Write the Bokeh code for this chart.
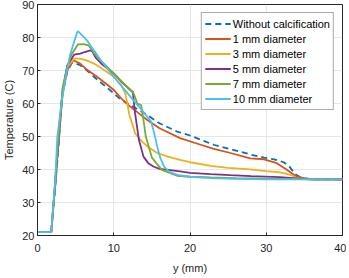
from bokeh.plotting import figure
from bokeh.models import Range1d, FixedTicker, Legend
from bokeh.embed import file_html
from bokeh.resources import INLINE

# ---- data ----
x_none = [0, 1.8, 2.3, 2.8, 3.2, 3.9, 4.5, 5.0, 5.6, 6.5, 7.4, 8.5, 10, 11, 12.2, 13.3, 14.4, 16, 18.3, 20,
          23.1, 25.3, 28, 29.7, 31, 32.3, 33.0, 33.8, 34.5, 36, 40]
t_none = [21, 21, 34, 48, 62, 69.6, 72.3, 72.1, 71.6, 70, 68.1, 66, 63.1, 61, 59.5, 58, 56.5, 54, 51.5, 50.3,
          47.5, 46.2, 44.5, 43.6, 43.1, 42.2, 41.0, 38.6, 37.6, 37, 37]

x_1mm = [0, 1.8, 2.3, 2.8, 3.3, 3.9, 4.7, 5.6, 6.5, 7.8, 9, 10, 11, 12.2, 13.3, 14.4, 16, 18.7, 21.4, 23,
         25.3, 27.9, 29.7, 31.4, 32.7, 33.8, 35, 36, 40]
t_1mm = [21, 21, 35, 50, 63, 70, 73.1, 72.1, 70.2, 68.1, 66, 64.1, 61.5, 59, 57, 55, 52.5, 49.5, 47.5, 46.3,
         45, 43.4, 43.1, 41.9, 39.9, 38.1, 37.3, 37, 37]

x_3mm = [0, 1.8, 2.3, 2.8, 3.3, 3.9, 4.8, 5.6, 6.5, 7.4, 8.5, 10, 11, 11.5, 11.8, 12.0, 12.4, 12.8, 13.5,
         14.4, 15.7, 17, 18.7, 20, 22.7, 25, 27.5, 30, 31.8, 33.2, 34.0, 35, 36, 40]
t_3mm = [21, 21, 35, 50, 64, 71, 73.6, 73.6, 73, 72.1, 70.5, 68.1, 65.5, 63.1, 60, 57, 54, 51, 49,
         47, 45, 44, 42.9, 42.2, 41.1, 40.5, 40.1, 39.5, 39.1, 38.4, 37.4, 37.1, 37, 37]

x_5mm = [0, 1.8, 2.3, 2.8, 3.3, 3.9, 4.8, 5.6, 6.2, 6.9, 7.2, 7.6, 8.5, 10, 11, 12.2, 12.5, 12.8, 13.3,
         13.9, 14.5, 15.2, 16, 17.4, 18.7, 20, 22.7, 25.3, 28, 31.8, 33.5, 35, 36, 40]
t_5mm = [21, 21, 35, 50, 64, 71.5, 74.8, 75.1, 75.6, 76.1, 75.8, 74.0, 71.8, 69.1, 66.6, 64.1, 63.5, 57, 49,
         43.9, 42, 40.9, 40.2, 39.8, 39.4, 39.0, 38.6, 38.3, 38.0, 37.7, 37.4, 37.1, 37, 37]

x_7mm = [0, 1.8, 2.3, 2.8, 3.3, 3.9, 4.5, 5.3, 6.0, 6.7, 7.8, 10, 12.6, 13.1, 13.6, 13.9, 14.2, 15.0, 16.3,
         18.3, 20, 22.7, 26, 30, 34, 40]
t_7mm = [21, 21, 36, 51, 65, 71, 75, 77.9, 78.0, 77.6, 74.1, 69.1, 63.1, 60.0, 59.5, 55, 50, 43.6, 39.9,
         38.1, 37.8, 37.6, 37.4, 37.2, 37.1, 37]

x_10mm = [0, 1.8, 2.3, 2.6, 3.2, 3.7, 4.3, 5.2, 5.3, 6.5, 8.3, 10, 12.2, 13.7, 14.9, 15.2, 15.7, 16.1, 16.6,
          17.3, 18.3, 20, 22.7, 26, 30, 40]
t_10mm = [21, 21, 36, 49.8, 61, 68, 75, 81.6, 81.9, 79.1, 73.1, 68.1, 62.0, 58.0, 54.5, 52, 47, 43.5, 40.9,
          39.3, 38.4, 37.8, 37.4, 37.2, 37, 37]

labels = ["Without calcification", "1 mm diameter", "3 mm diameter",
          "5 mm diameter", "7 mm diameter", "10 mm diameter"]
x_ticks = [0, 10, 20, 30, 40]
y_ticks = [20, 30, 40, 50, 60, 70, 80, 90]

colors = ["#0072BD", "#D95319", "#EDB120", "#7E2F8E", "#77AC30", "#4DBEEE"]
FONT = "Liberation Sans"
TXT = "#262626"

p = figure(width=346, height=276, output_backend="svg", toolbar_location=None,
           x_range=Range1d(0, 40), y_range=Range1d(20, 90),
           min_border_left=29, min_border_right=4, min_border_top=4, min_border_bottom=40)
p.outline_line_color = TXT
p.outline_line_width = 1
p.background_fill_color = "white"
p.border_fill_color = "white"

for ax, ticks in ((p.xaxis, x_ticks), (p.yaxis, y_ticks)):
    ax.ticker = FixedTicker(ticks=ticks)
    ax.major_label_text_font = FONT
    ax.major_label_text_font_size = "11px"
    ax.major_label_text_color = TXT
    ax.axis_label_text_font = FONT
    ax.axis_label_text_font_size = "11px"
    ax.axis_label_text_font_style = "normal"
    ax.axis_label_text_color = TXT
    ax.axis_line_color = TXT
    ax.major_tick_line_color = TXT
    ax.major_tick_in = 3
    ax.major_tick_out = 0
    ax.minor_tick_line_color = None
p.xaxis.axis_label = "y (mm)"
p.yaxis.axis_label = "Temperature (C)"
p.xaxis.axis_label_standoff = 7
p.yaxis.axis_label_standoff = 4
p.xaxis.major_label_standoff = 8
p.yaxis.major_label_standoff = 3

p.xgrid.ticker = FixedTicker(ticks=x_ticks)
p.ygrid.ticker = FixedTicker(ticks=y_ticks)
p.grid.grid_line_color = "#e6e6e6"
p.grid.grid_line_width = 1

xs = [x_none, x_1mm, x_3mm, x_5mm, x_7mm, x_10mm]
ts = [t_none, t_1mm, t_3mm, t_5mm, t_7mm, t_10mm]
items = []
for i, (xx, tt) in enumerate(zip(xs, ts)):
    kw = dict(line_color=colors[i], line_width=1.8)
    if i == 0:
        kw["line_dash"] = "6 4"
    r = p.line(xx, tt, **kw)
    items.append((labels[i], [r]))

legend = Legend(items=items, location="top_right")
legend.label_text_font = FONT
legend.label_text_font_size = "11px"
legend.label_text_color = "#000000"
legend.label_height = 15
legend.glyph_height = 15
legend.glyph_width = 26
legend.label_standoff = 2
legend.spacing = 0
legend.padding = 3
legend.margin = 8
legend.border_line_color = "#555555"
legend.border_line_width = 1
legend.background_fill_alpha = 1
p.add_layout(legend)

open("out.html", "w").write(file_html(p, INLINE))
